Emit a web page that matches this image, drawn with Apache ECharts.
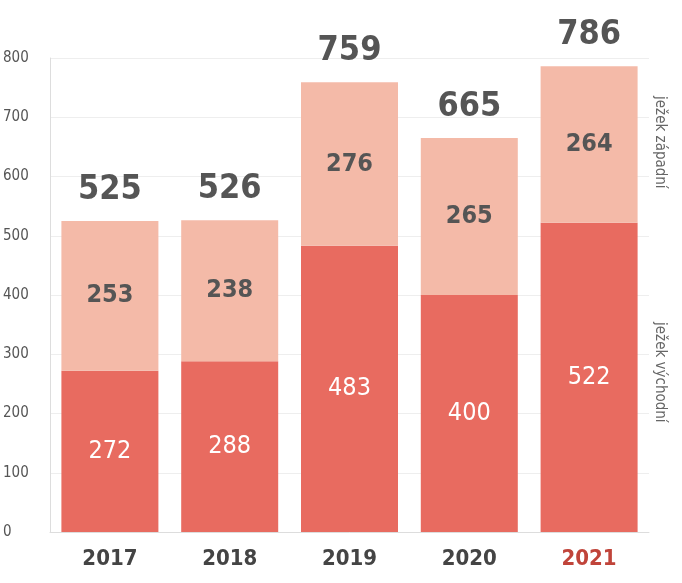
<!DOCTYPE html>
<html lang="cs">
<head>
<meta charset="utf-8">
<title>Ježci</title>
<script src="https://cdn.jsdelivr.net/npm/echarts@6/dist/echarts.min.js"></script>
</head>
<body style="margin:0">
<div id="container" style="width:682px;height:583px"></div>
<script>
// data
var years = ['2017', '2018', '2019', '2020', '2021'];
var vychodni = [272, 288, 483, 400, 522];
var zapadni = [253, 238, 276, 265, 264];
var totals = [525, 526, 759, 665, 786];
var yTicks = [0, 100, 200, 300, 400, 500, 600, 700, 800];

var font = '"DejaVu Sans Condensed", "Liberation Sans Narrow", sans-serif';
var red = '#c0443a';

var chart = echarts.init(document.getElementById('container'));
chart.setOption({
	animation: false,
	grid: { left: 47, right: 33, top: 58, bottom: 51 },
	graphic: [
		{ type: 'text', left: 652, top: 96, rotation: -Math.PI / 2,
			style: { text: 'ježek západní', fill: '#666', font: '15px ' + font } },
		{ type: 'text', left: 652, top: 322, rotation: -Math.PI / 2,
			style: { text: 'ježek východní', fill: '#666', font: '15px ' + font } }
	],
	xAxis: {
		type: 'category',
		data: years,
		axisTick: { show: false },
		axisLine: { lineStyle: { color: '#ddd' } },
		axisLabel: {
			margin: 16, fontSize: 22, fontWeight: 'bold', fontFamily: font,
			color: function (v) { return v === '2021' ? red : '#444'; }
		}
	},
	yAxis: {
		type: 'value', min: yTicks[0], max: yTicks[yTicks.length - 1], interval: 100,
		axisLine: { show: true, lineStyle: { color: '#ddd' } },
		splitLine: { lineStyle: { color: '#eee' } },
		axisLabel: { margin: 47, align: 'left', fontSize: 15, color: '#555', fontFamily: font }
	},
	series: [
		{
			type: 'bar', stack: 'a', data: vychodni, barWidth: 97,
			itemStyle: { color: '#e86b60' },
			label: { show: true, position: 'inside', color: '#fff', fontSize: 25, fontFamily: font }
		},
		{
			type: 'bar', stack: 'a', data: zapadni,
			itemStyle: { color: '#f4baa8' },
			label: { show: true, position: 'inside', color: '#555', fontSize: 25, fontWeight: 'bold', fontFamily: font }
		},
		{
			type: 'line', data: totals, symbol: 'circle', symbolSize: 0, showSymbol: true,
			lineStyle: { opacity: 0 }, itemStyle: { opacity: 0 }, z: 10,
			label: {
				show: true, position: 'top', distance: 14, fontSize: 34, fontWeight: 'bold', fontFamily: font,
				opacity: 1,
				color: function (p) { return p.dataIndex === 4 ? red : '#555'; }
			}
		}
	]
});
</script>
</body>
</html>
